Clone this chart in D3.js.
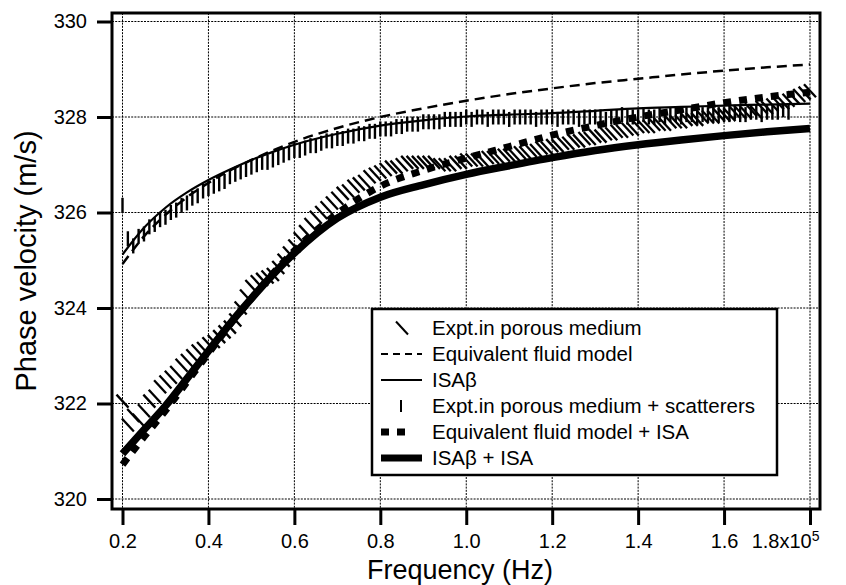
<!DOCTYPE html>
<html>
<head>
<meta charset="utf-8">
<script src="https://cdn.jsdelivr.net/npm/d3@7"></script>
<style>
  body { margin: 0; background: #fff; }
  svg { display: block; }
  text { font-family: "Liberation Sans", Arial, Helvetica, sans-serif; fill: #000; }
</style>
</head>
<body>
<div id="chart"></div>
<script>
// model curves (frequency in units of 1e5 Hz, phase velocity in m/s)
const modelFreq = [0.2, 0.25, 0.3, 0.35, 0.4, 0.45, 0.5, 0.55, 0.6, 0.7, 0.8, 0.9, 1.0, 1.1, 1.2, 1.3, 1.4, 1.5, 1.6, 1.7, 1.8];
const eqFluid = [324.92, 325.5, 325.95, 326.32, 326.62, 326.88, 327.1, 327.3, 327.48, 327.77, 328.0, 328.18, 328.34, 328.48, 328.6, 328.71, 328.8, 328.89, 328.97, 329.04, 329.1];
const isaBeta = [325.12, 325.68, 326.1, 326.42, 326.68, 326.9, 327.1, 327.27, 327.42, 327.65, 327.82, 327.93, 328.01, 328.05, 328.08, 328.13, 328.18, 328.21, 328.24, 328.26, 328.28];
const eqFluidIsa = [320.72, 321.3, 321.85, 322.45, 323.05, 323.65, 324.2, 324.72, 325.2, 325.98, 326.55, 326.88, 327.14, 327.38, 327.62, 327.82, 328.0, 328.15, 328.3, 328.42, 328.52];
const isaBetaIsa = [320.95, 321.45, 321.95, 322.52, 323.1, 323.67, 324.2, 324.7, 325.15, 325.88, 326.32, 326.58, 326.8, 326.98, 327.15, 327.3, 327.42, 327.52, 327.61, 327.69, 327.76];

// experiments
const exptFreq = [
  0.2, 0.2125, 0.225, 0.2375, 0.25, 0.2625, 0.275, 0.2875,
  0.3, 0.3125, 0.325, 0.3375, 0.35, 0.3625, 0.375, 0.3875,
  0.4, 0.4125, 0.425, 0.4375, 0.45, 0.4625, 0.475, 0.4875,
  0.5, 0.5125, 0.525, 0.5375, 0.55, 0.5625, 0.575, 0.5875,
  0.6, 0.6125, 0.625, 0.6375, 0.65, 0.6625, 0.675, 0.6875,
  0.7, 0.7125, 0.725, 0.7375, 0.75, 0.7625, 0.775, 0.7875,
  0.8, 0.8125, 0.825, 0.8375, 0.85, 0.8625, 0.875, 0.8875,
  0.9, 0.9125, 0.925, 0.9375, 0.95, 0.9625, 0.975, 0.9875,
  1.0, 1.0125, 1.025, 1.0375, 1.05, 1.0625, 1.075, 1.0875,
  1.1, 1.1125, 1.125, 1.1375, 1.15, 1.1625, 1.175, 1.1875,
  1.2, 1.2125, 1.225, 1.2375, 1.25, 1.2625, 1.275, 1.2875,
  1.3, 1.3125, 1.325, 1.3375, 1.35, 1.3625, 1.375, 1.3875,
  1.4, 1.4125, 1.425, 1.4375, 1.45, 1.4625, 1.475, 1.4875,
  1.5, 1.5125, 1.525, 1.5375, 1.55, 1.5625, 1.575, 1.5875,
  1.6, 1.6125, 1.625, 1.6375, 1.65, 1.6625, 1.675, 1.6875,
  1.7, 1.7125, 1.725, 1.7375, 1.75, 1.7625, 1.775, 1.7875,
  1.8
];
const exptPorous = [
  322.05, 321.55, 321.75, 321.65, 321.85, 322.05, 322.15, 322.35,
  322.45, 322.55, 322.65, 322.8, 322.9, 323.0, 323.1, 323.15,
  323.25, 323.3, 323.4, 323.5, 323.6, 323.75, 324.0, 324.25,
  324.45, 324.55, 324.6, 324.65, 324.7, 324.85, 325.0, 325.15,
  325.3, 325.45, 325.6, 325.75, 325.9, 326.0, 326.1, 326.2,
  326.3, 326.4, 326.45, 326.55, 326.6, 326.65, 326.75, 326.8,
  326.85, 326.9, 326.95, 326.95, 327.0, 327.05, 327.05, 327.05,
  327.05, 327.05, 327.05, 327.0, 327.0, 327.0, 327.05, 327.05,
  327.1, 327.1, 327.1, 327.1, 327.15, 327.15, 327.15, 327.2,
  327.2, 327.2, 327.25, 327.25, 327.3, 327.3, 327.35, 327.35,
  327.4, 327.4, 327.45, 327.45, 327.5, 327.5, 327.55, 327.55,
  327.6, 327.6, 327.65, 327.65, 327.7, 327.7, 327.75, 327.75,
  327.8, 327.8, 327.8, 327.85, 327.85, 327.85, 327.9, 327.9,
  327.9, 327.95, 327.95, 327.95, 328.0, 328.0, 328.0, 328.05,
  328.05, 328.05, 328.1, 328.1, 328.1, 328.15, 328.1, 328.2,
  328.2, 328.25, 328.3, 328.3, 328.35, 328.4, 328.45, 328.5,
  328.55
];
const exptScatter = [
  326.15, 325.45, 325.3, 325.5, 325.55, 325.7, 325.75, 325.85,
  325.9, 326.0, 326.05, 326.15, 326.2, 326.3, 326.35, 326.45,
  326.5, 326.55, 326.6, 326.65, 326.75, 326.8, 326.85, 326.9,
  326.95, 327.0, 327.05, 327.05, 327.1, 327.15, 327.2, 327.25,
  327.3, 327.3, 327.35, 327.4, 327.4, 327.45, 327.5, 327.5,
  327.55, 327.55, 327.6, 327.6, 327.65, 327.65, 327.7, 327.7,
  327.75, 327.75, 327.75, 327.8, 327.8, 327.85, 327.85, 327.85,
  327.9, 327.9, 327.9, 327.9, 327.95, 327.95, 327.95, 327.95,
  328.0, 327.95, 328.0, 328.0, 327.95, 328.0, 328.0, 328.0,
  327.95, 328.0, 328.0, 328.0, 328.0, 327.95, 328.0, 328.0,
  328.0, 327.95, 328.0, 328.0, 328.0, 327.95, 328.0, 328.0,
  328.0, 328.0, 327.95, 328.0, 328.0, 328.05, 328.0, 328.0,
  328.0, 328.05, 328.0, 328.0, 328.05, 328.0, 328.05, 328.05,
  328.0, 328.05, 328.05, 328.0, 328.05, 328.05, 328.05, 328.05,
  328.05, 328.05, 328.1, 328.05, 328.05, 328.1, 328.1, 328.05,
  328.1, 328.1, 328.1, 328.15, 328.1, null, null, null,
  null
];

const xTicks = [0.2, 0.4, 0.6, 0.8, 1.0, 1.2, 1.4, 1.6, 1.8];
const yTicks = [320, 322, 324, 326, 328, 330];
const legendLabels = ["Expt.in porous medium", "Equivalent fluid model", "ISA\u03B2",
  "Expt.in porous medium + scatterers", "Equivalent fluid model + ISA", "ISA\u03B2 + ISA"];

const width = 846, height = 585;
const frame = {left: 112, right: 820, top: 13, bottom: 509};

const svg = d3.select("#chart").append("svg")
  .attr("width", width)
  .attr("height", height);

const x = d3.scaleLinear().domain([0.2, 1.8]).range([122.5, 810]);
const y = d3.scaleLinear().domain([320, 330]).range([499, 21.5]);

svg.append("clipPath").attr("id", "plot-clip")
  .append("rect")
  .attr("x", frame.left).attr("y", frame.top)
  .attr("width", frame.right - frame.left).attr("height", frame.bottom - frame.top);

// grid
const grid = svg.append("g").attr("stroke", "#000").attr("stroke-width", 1).attr("stroke-dasharray", "2,1.2");
grid.selectAll(".vgrid").data(xTicks).enter().append("line")
  .attr("x1", d => x(d)).attr("x2", d => x(d))
  .attr("y1", frame.top).attr("y2", frame.bottom);
grid.selectAll(".hgrid").data(yTicks).enter().append("line")
  .attr("x1", frame.left).attr("x2", frame.right)
  .attr("y1", d => y(d)).attr("y2", d => y(d));

// curves
const plot = svg.append("g").attr("clip-path", "url(#plot-clip)");
const line = d3.line()
  .x((d, i) => x(modelFreq[i]))
  .y(d => y(d))
  .curve(d3.curveMonotoneX);

const curves = [
  {values: eqFluid, width: 2.5, dash: "10,6"},
  {values: isaBeta, width: 2.2, dash: null},
  {values: eqFluidIsa, width: 7, dash: "8,8"},
  {values: isaBetaIsa, width: 7.5, dash: null}
];
plot.selectAll(".curve").data(curves).enter().append("path")
  .attr("class", "curve")
  .attr("d", d => line(d.values))
  .attr("fill", "none")
  .attr("stroke", "#000")
  .attr("stroke-width", d => d.width)
  .attr("stroke-dasharray", d => d.dash);

// experimental markers
const backslash = "M-6,-6.5L6,6.5";
const bar = "M0,-7.5L0,7.5";

const porousPts = exptFreq.map((f, i) => ({f: f, v: exptPorous[i]})).filter(d => d.v != null);
const scatterPts = exptFreq.map((f, i) => ({f: f, v: exptScatter[i]})).filter(d => d.v != null);

plot.selectAll(".porous").data(porousPts).enter().append("path")
  .attr("class", "porous")
  .attr("d", backslash)
  .attr("transform", d => `translate(${x(d.f)},${y(d.v)})`)
  .attr("stroke", "#000").attr("stroke-width", 2.3);

plot.selectAll(".scatter").data(scatterPts).enter().append("path")
  .attr("class", "scatter")
  .attr("d", bar)
  .attr("transform", d => `translate(${x(d.f)},${y(d.v)})`)
  .attr("stroke", "#000").attr("stroke-width", 2.4);

// frame
svg.append("rect")
  .attr("x", frame.left).attr("y", frame.top)
  .attr("width", frame.right - frame.left).attr("height", frame.bottom - frame.top)
  .attr("fill", "none").attr("stroke", "#000").attr("stroke-width", 3);

// axes
const yAxis = svg.append("g")
  .attr("transform", `translate(${frame.left},0)`)
  .call(d3.axisLeft(y).tickValues(yTicks).tickSize(15).tickPadding(10).tickFormat(d3.format("d")));
yAxis.select(".domain").remove();
yAxis.selectAll(".tick line").attr("stroke-width", 3);
yAxis.selectAll(".tick text").attr("font-size", 20).attr("font-family", null);

const xAxis = svg.append("g")
  .attr("transform", `translate(0,${frame.bottom})`)
  .call(d3.axisBottom(x).tickValues(xTicks).tickSize(16).tickPadding(9).tickFormat(d3.format(".1f")));
xAxis.select(".domain").remove();
xAxis.selectAll(".tick line").attr("stroke-width", 3);
xAxis.selectAll(".tick text").attr("font-size", 20).attr("font-family", null);

// last tick gets the 10^5 multiplier
const lastLabel = xAxis.selectAll(".tick text").filter(d => d === 1.8);
lastLabel.text("1.8x10").attr("text-anchor", "end");
lastLabel.append("tspan").attr("font-size", 14).attr("dy", "-0.55em").text("5");
lastLabel.attr("x", 9);

// axis titles
svg.append("text")
  .attr("transform", "translate(36,261) rotate(-90)")
  .attr("text-anchor", "middle")
  .attr("font-size", 29)
  .text("Phase velocity (m/s)");

svg.append("text")
  .attr("x", 460).attr("y", 579)
  .attr("text-anchor", "middle")
  .attr("font-size", 27)
  .text("Frequency (Hz)");

// legend
const legend = svg.append("g");
legend.append("rect")
  .attr("x", 372).attr("y", 309).attr("width", 405).attr("height", 166)
  .attr("fill", "#fff").attr("stroke", "#000").attr("stroke-width", 2.5);

const rowY = i => 328 + i * 26;
const rows = legend.selectAll(".legend-row").data(legendLabels).enter().append("g")
  .attr("class", "legend-row")
  .attr("transform", (d, i) => `translate(0,${rowY(i)})`);

rows.append("text")
  .attr("x", 432).attr("dy", "0.35em")
  .attr("font-size", 20.5)
  .text(d => d);

const sym = legend.append("g").attr("stroke", "#000").attr("fill", "none");
sym.append("path").attr("d", backslash).attr("transform", `translate(402,${rowY(0)})`).attr("stroke-width", 2);
sym.append("line").attr("x1", 381).attr("x2", 422).attr("y1", rowY(1)).attr("y2", rowY(1))
  .attr("stroke-width", 2).attr("stroke-dasharray", "7,5");
sym.append("line").attr("x1", 381).attr("x2", 422).attr("y1", rowY(2)).attr("y2", rowY(2))
  .attr("stroke-width", 2);
sym.append("path").attr("d", "M0,-6L0,6").attr("transform", `translate(401,${rowY(3)})`).attr("stroke-width", 2);
sym.append("line").attr("x1", 381).attr("x2", 407).attr("y1", rowY(4)).attr("y2", rowY(4))
  .attr("stroke-width", 7).attr("stroke-dasharray", "8,8");
sym.append("line").attr("x1", 381).attr("x2", 422).attr("y1", rowY(5)).attr("y2", rowY(5))
  .attr("stroke-width", 7);
</script>
</body>
</html>
